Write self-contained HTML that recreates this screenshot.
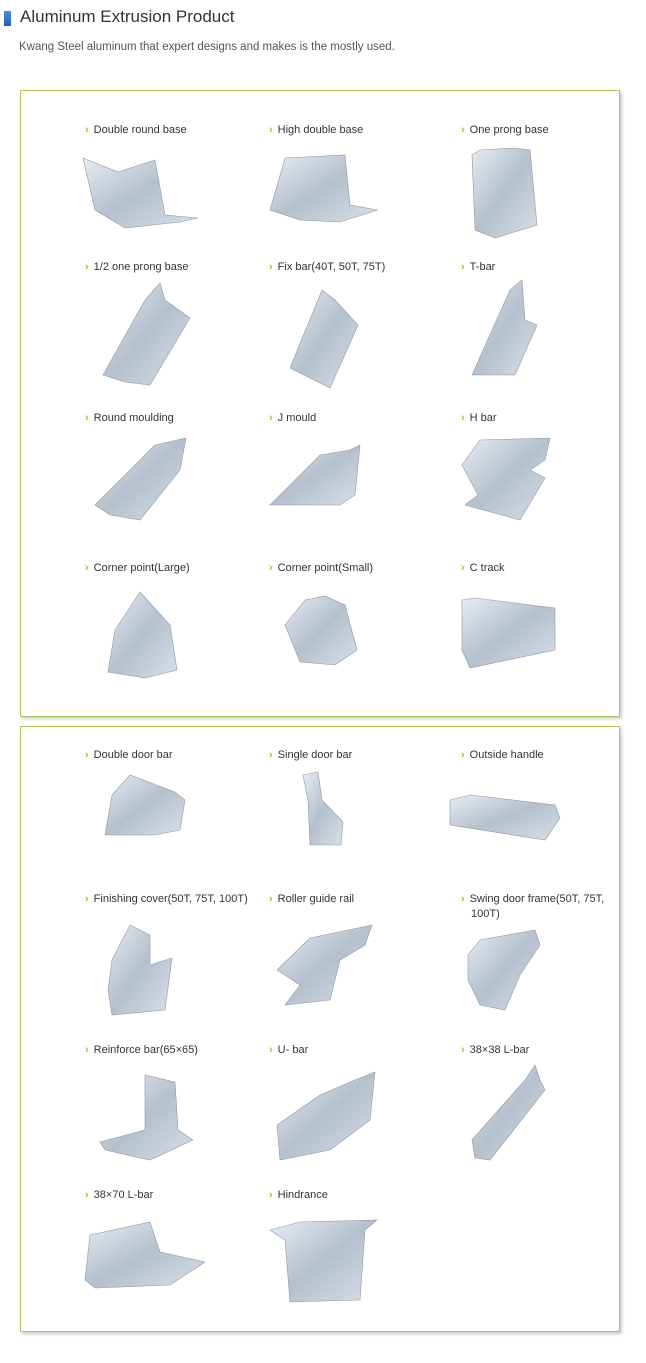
<!DOCTYPE html>
<html><head><meta charset="utf-8"><style>
body{margin:0;width:646px;height:1363px;background:#fff;position:relative;font-family:"Liberation Sans",sans-serif;overflow:hidden}
.t{position:absolute;left:20px;top:7px;font-size:17px;color:#333}
.mk{position:absolute;left:4px;top:11px;width:7px;height:15px;background:linear-gradient(#4a8ee0,#1d5fbf)}
.s{position:absolute;left:19px;top:41px;font-size:11.5px;color:#555}
.box{position:absolute;left:20px;width:598px;border:1px solid #a6cc55;box-shadow:2px 2px 3px #ccc}
.l{position:absolute;font-size:11px;color:#333;line-height:15px;width:160px}
.l:before{content:"›";color:#8cc63f;font-weight:bold;margin-right:5px;margin-left:-10px}
svg{position:absolute;left:0;top:0}
</style></head><body>
<div class="mk"></div><div class="t">Aluminum Extrusion Product</div>
<div class="s">Kwang Steel aluminum that expert designs and makes is the mostly used.</div>
<div class="box" style="top:90px;height:625px"></div>
<div class="box" style="top:726px;height:604px"></div>

<div class="l" style="left:95px;top:123px">Double round base</div>
<div class="l" style="left:279px;top:123px">High double base</div>
<div class="l" style="left:471px;top:123px">One prong base</div>
<div class="l" style="left:95px;top:260px">1/2 one prong base</div>
<div class="l" style="left:279px;top:260px">Fix bar(40T, 50T, 75T)</div>
<div class="l" style="left:471px;top:260px">T-bar</div>
<div class="l" style="left:95px;top:411px">Round moulding</div>
<div class="l" style="left:279px;top:411px">J mould</div>
<div class="l" style="left:471px;top:411px">H bar</div>
<div class="l" style="left:95px;top:561px">Corner point(Large)</div>
<div class="l" style="left:279px;top:561px">Corner point(Small)</div>
<div class="l" style="left:471px;top:561px">C track</div>
<div class="l" style="left:95px;top:748px">Double door bar</div>
<div class="l" style="left:279px;top:748px">Single door bar</div>
<div class="l" style="left:471px;top:748px">Outside handle</div>
<div class="l" style="left:95px;top:892px;width:170px">Finishing cover(50T, 75T, 100T)</div>
<div class="l" style="left:279px;top:892px">Roller guide rail</div>
<div class="l" style="left:471px;top:892px;width:145px">Swing door frame(50T, 75T, 100T)</div>
<div class="l" style="left:95px;top:1043px">Reinforce bar(65×65)</div>
<div class="l" style="left:279px;top:1043px">U- bar</div>
<div class="l" style="left:471px;top:1043px">38×38 L-bar</div>
<div class="l" style="left:95px;top:1188px">38×70 L-bar</div>
<div class="l" style="left:279px;top:1188px">Hindrance</div>

<svg width="646" height="1363"><defs><linearGradient id="g" x1="0" y1="0" x2="1" y2="1"><stop offset="0" stop-color="#e6ecf2"/><stop offset=".5" stop-color="#b4c0cc"/><stop offset="1" stop-color="#d8e0e8"/></linearGradient></defs>
<g fill="url(#g)" stroke="#8e9aa6" stroke-width=".6">
<path d="M83 158 L118 172 L155 160 L165 215 L198 218 L180 222 L125 228 L95 210Z"/>
<path d="M270 210 L285 158 L345 155 L350 205 L378 210 L340 222 L300 220Z"/>
<path d="M472 155 L480 150 L515 148 L530 150 L537 225 L495 238 L475 230Z"/>
<path d="M103 375 L145 300 L160 283 L165 300 L190 318 L150 385 L125 382Z"/>
<path d="M290 368 L322 290 L335 300 L358 325 L330 388 Z"/>
<path d="M472 375 L510 290 L522 280 L525 320 L537 325 L515 375Z"/>
<path d="M95 505 L155 445 L186 438 L180 470 L140 520 L110 515Z"/>
<path d="M270 505 L320 455 L350 450 L360 445 L355 495 L340 505Z"/>
<path d="M462 465 L480 440 L550 438 L545 460 L530 470 L545 478 L520 520 L465 505 L478 495Z"/>
<path d="M108 672 L115 630 L140 592 L170 625 L177 670 L145 678Z"/>
<path d="M285 625 L305 600 L325 596 L345 605 L357 650 L335 665 L300 662Z"/>
<path d="M462 600 L475 598 L555 608 L555 650 L470 668 L462 650Z"/>
<path d="M105 835 L112 795 L130 775 L175 792 L185 800 L180 830 L155 835 L125 835Z"/>
<path d="M303 775 L318 772 L322 800 L343 822 L341 845 L310 845 L308 800Z"/>
<path d="M450 800 L470 795 L555 805 L560 818 L545 840 L450 825Z"/>
<path d="M108 990 L112 960 L130 925 L150 935 L150 965 L172 958 L165 1010 L112 1015Z"/>
<path d="M277 970 L310 938 L372 925 L365 945 L340 960 L330 1000 L285 1005 L300 985Z"/>
<path d="M468 955 L480 940 L535 930 L540 945 L520 975 L505 1010 L480 1005 L468 980Z"/>
<path d="M100 1142 L145 1130 L145 1075 L175 1082 L178 1130 L193 1140 L150 1160 L105 1150Z"/>
<path d="M277 1125 L320 1095 L355 1080 L375 1072 L370 1120 L330 1150 L280 1160Z"/>
<path d="M472 1140 L525 1080 L535 1065 L540 1080 L545 1090 L490 1160 L475 1158Z"/>
<path d="M85 1280 L90 1235 L150 1222 L160 1252 L205 1262 L170 1285 L95 1288Z"/>
<path d="M270 1230 L300 1222 L377 1220 L365 1230 L360 1300 L290 1302 L285 1240Z"/>
</g></svg>
</body></html>
